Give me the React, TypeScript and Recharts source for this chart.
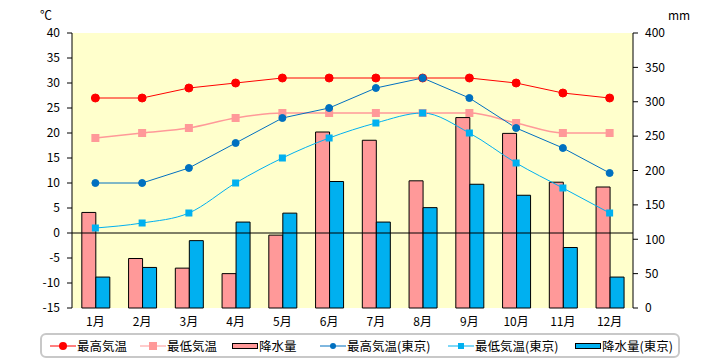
import React from 'react';
import { ComposedChart, Bar, Line, XAxis, YAxis, ReferenceLine } from 'recharts';

const months = ['1月', '2月', '3月', '4月', '5月', '6月', '7月', '8月', '9月', '10月', '11月', '12月'];
const highTemp = [27, 27, 29, 30, 31, 31, 31, 31, 31, 30, 28, 27];
const lowTemp = [19, 20, 21, 23, 24, 24, 24, 24, 24, 22, 20, 20];
const rain = [139, 72, 58, 50, 106, 256, 244, 185, 277, 254, 183, 176];
const highTokyo = [10, 10, 13, 18, 23, 25, 29, 31, 27, 21, 17, 12];
const lowTokyo = [1, 2, 4, 10, 15, 19, 22, 24, 20, 14, 9, 4];
const rainTokyo = [45, 59, 98, 125, 138, 184, 125, 146, 180, 164, 88, 45];

const tempTicks = [-15, -10, -5, 0, 5, 10, 15, 20, 25, 30, 35, 40];
const rainTicks = [0, 50, 100, 150, 200, 250, 300, 350, 400];

const data = months.map((m, i) => ({
  month: m,
  high: highTemp[i],
  low: lowTemp[i],
  rain: rain[i],
  highT: highTokyo[i],
  lowT: lowTokyo[i],
  rainT: rainTokyo[i],
}));

const FONT = '"Noto Sans CJK JP", "Noto Sans", sans-serif';
const C = { high: '#FF0000', low: '#FF9999', highT: '#0070C0', lowT: '#00B0F0' };

const Square = (size: number, fill: string) => (props: any) => {
  const { cx, cy, index } = props;
  if (cx == null || cy == null) return <g key={index} />;
  return <rect key={index} x={cx - size / 2} y={cy - size / 2} width={size} height={size} fill={fill} />;
};

const legendItems = [
  { label: '最高気温', kind: 'circle', color: C.high, x: 50, r: 4 },
  { label: '最低気温', kind: 'square', color: C.low, x: 140, r: 8 },
  { label: '降水量', kind: 'bar', color: '#FF9999', x: 232, r: 0 },
  { label: '最高気温(東京)', kind: 'circle', color: C.highT, x: 320, r: 3 },
  { label: '最低気温(東京)', kind: 'square', color: C.lowT, x: 448, r: 6 },
  { label: '降水量(東京)', kind: 'bar', color: '#00B0F0', x: 575, r: 0 },
];

function LegendBox() {
  return (
    <div style={{ position: 'absolute', left: 40, top: 333, width: 636, height: 21, border: '2px solid #C8C8C8', borderRadius: 6, background: '#fff' }}>
      {legendItems.map((it) => (
        <div key={it.label} style={{ position: 'absolute', left: it.x - 42, top: 0, height: 21, display: 'flex', alignItems: 'center', fontFamily: FONT, fontSize: 12.5, color: '#000', whiteSpace: 'nowrap' }}>
          <svg width={26} height={12} style={{ marginRight: 1 }}>
            {it.kind === 'bar' ? (
              <rect x={0.5} y={3.5} width={25} height={5} fill={it.color} stroke="#000" />
            ) : (
              <>
                <line x1={0} y1={6} x2={26} y2={6} stroke={it.color} strokeWidth={1} />
                {it.kind === 'circle' ? (
                  <circle cx={13} cy={6} r={it.r} fill={it.color} />
                ) : (
                  <rect x={13 - it.r / 2} y={6 - it.r / 2} width={it.r} height={it.r} fill={it.color} />
                )}
              </>
            )}
          </svg>
          <span>{it.label}</span>
        </div>
      ))}
    </div>
  );
}

export default function App() {
  const tick = { fill: '#000', fontSize: 12, fontFamily: FONT };
  return (
    <div style={{ position: 'absolute', left: 0, top: 0, width: 720, height: 360, background: '#fff' }}>
      <div style={{ position: 'absolute', left: 40, top: 6, fontFamily: FONT, fontSize: 12 }}>℃</div>
      <div style={{ position: 'absolute', left: 668, top: 6, fontFamily: FONT, fontSize: 12 }}>mm</div>
      <ComposedChart width={720} height={360} data={data} margin={{ top: 33, right: 0, bottom: 30, left: 0 }} barGap={0} barCategoryGap="21%">
        <rect x={72} y={33} width={561} height={275} fill="#FFFFCC" />
        <XAxis dataKey="month" axisLine={false} tickLine={false} tick={tick} height={22} tickMargin={3} interval={0} />
        <YAxis yAxisId="t" domain={[-15, 40]} ticks={tempTicks} width={72} tick={tick} axisLine={{ stroke: '#000' }} tickLine={{ stroke: '#000' }} tickSize={5} tickMargin={7} allowDataOverflow />
        <YAxis yAxisId="r" orientation="right" domain={[0, 400]} ticks={rainTicks} width={87} tick={tick} axisLine={{ stroke: '#000' }} tickLine={{ stroke: '#000' }} tickSize={5} tickMargin={7} />
        <Bar yAxisId="r" dataKey="rain" fill="#FF9999" stroke="#000" strokeWidth={1} isAnimationActive={false} />
        <Bar yAxisId="r" dataKey="rainT" fill="#00B0F0" stroke="#000" strokeWidth={1} isAnimationActive={false} />
        <ReferenceLine yAxisId="t" y={0} stroke="#000" strokeWidth={1} />
        <Line yAxisId="t" dataKey="high" type="linear" stroke={C.high} strokeWidth={1} dot={{ r: 4, fill: C.high, stroke: C.high, strokeWidth: 1 }} isAnimationActive={false} />
        <Line yAxisId="t" dataKey="low" type="monotone" stroke={C.low} strokeWidth={1.5} dot={Square(8, C.low)} isAnimationActive={false} />
        <Line yAxisId="t" dataKey="highT" type="linear" stroke={C.highT} strokeWidth={1} dot={{ r: 3.5, fill: C.highT, stroke: C.highT, strokeWidth: 1 }} isAnimationActive={false} />
        <Line yAxisId="t" dataKey="lowT" type="monotone" stroke={C.lowT} strokeWidth={1} dot={Square(7, C.lowT)} isAnimationActive={false} />
      </ComposedChart>
      <LegendBox />
    </div>
  );
}
